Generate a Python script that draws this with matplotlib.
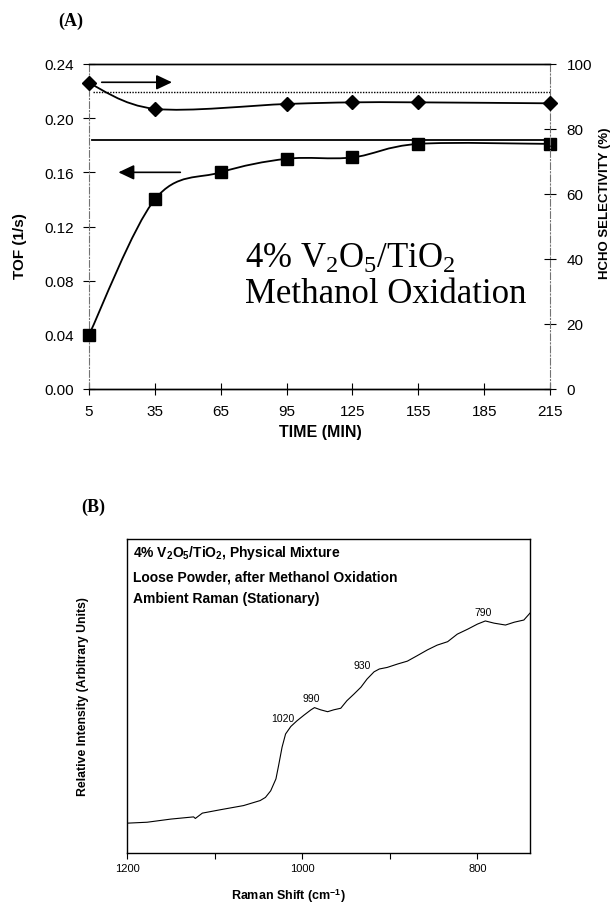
import matplotlib
matplotlib.use("Agg")
import matplotlib.pyplot as plt
import numpy as np
from matplotlib.path import Path
from matplotlib.patches import PathPatch

plt.rcParams.update(
    {
        "font.family": "Liberation Sans",
        "mathtext.fontset": "custom",
        "mathtext.rm": "Liberation Serif",
        "mathtext.it": "Liberation Serif:italic",
        "mathtext.bf": "Liberation Sans:bold",
    }
)

# panel A: methanol oxidation over time
time_sel = [5, 35, 95, 125, 155, 215]
selectivity = [94.1, 86.2, 87.7, 88.2, 88.2, 87.9]
time_tof = [5, 35, 65, 95, 125, 155, 215]
tof = [0.040, 0.140, 0.160, 0.170, 0.171, 0.181, 0.181]
ref_selectivity = 91.3
ref_tof = 0.184
time_ticks = [5, 35, 65, 95, 125, 155, 185, 215]
tof_ticks = [0.00, 0.04, 0.08, 0.12, 0.16, 0.20, 0.24]
sel_ticks = [0, 20, 40, 60, 80, 100]

# panel B: Raman spectrum
raman_shift = [1200, 1177, 1150, 1124, 1122, 1114, 1093, 1067, 1048, 1042, 1036,
               1030, 1027, 1023, 1019, 1013, 1006, 998, 990, 986, 979, 971, 964,
               956, 949, 941, 933, 926, 918, 912, 903, 891, 880, 869, 857, 846,
               834, 823, 811, 800, 791, 781, 768, 758, 747, 740]
intensity = [9.5, 9.8, 10.8, 11.5, 11.0, 12.7, 13.8, 15.1, 16.7, 17.7, 19.8,
             23.6, 27.8, 33.7, 37.9, 40.3, 42.1, 43.9, 45.6, 46.3, 45.6, 45.0, 45.6,
             46.1, 48.5, 50.6, 52.8, 55.4, 57.7, 58.6, 59.1, 60.2, 61.1, 62.8, 64.7, 66.2,
             67.3, 69.7, 71.3, 72.9, 73.9, 73.2, 72.6, 73.5, 74.2, 76.4]
peak_labels = ["1020", "990", "930", "790"]
peak_pos = [(1022, 42.9), (989.5, 49.4), (932, 59.9), (793, 76.8)]


def smooth_path(xs, ys):
    # Catmull-Rom style bezier through the points (like Excel's smoothed line)
    pts = np.column_stack([xs, ys]).astype(float)
    n = len(pts)
    verts, codes = [pts[0]], [Path.MOVETO]
    for i in range(n - 1):
        p0, p1 = pts[max(i - 1, 0)], pts[i]
        p2, p3 = pts[i + 1], pts[min(i + 2, n - 1)]
        verts += [p1 + (p2 - p0) / 6, p2 - (p3 - p1) / 6, p2]
        codes += [Path.CURVE4] * 3
    return Path(verts, codes)


W, H = 615, 903
fig = plt.figure(figsize=(W / 100, H / 100), dpi=100)


def fx(px):
    return px / W


def fy(py):
    return 1 - py / H


# ---------- panel A ----------
ax = fig.add_axes([fx(89), fy(390), fx(550) - fx(89), fy(65) - fy(390)])
ax2 = ax.twinx()
ax.set_xlim(5, 215)
ax.set_ylim(0, 0.24)
ax2.set_ylim(0, 100)

ax.add_patch(PathPatch(smooth_path(time_tof, tof), fill=False, lw=1.3, color="black"))
ax.plot(time_tof, tof, ls="none", marker="s", ms=8, color="black", clip_on=False, zorder=5)
ax2.add_patch(PathPatch(smooth_path(time_sel, selectivity), fill=False, lw=1.3, color="black"))
ax2.plot(time_sel, selectivity, ls="none", marker="D", ms=7, color="black", clip_on=False, zorder=5)

ax.axhline(ref_tof, xmin=0.006, xmax=1, color="black", lw=1.3)
ax2.axhline(ref_selectivity, xmin=0.009, xmax=1, color="black", lw=1.0, ls=(0, (1, 1)))

arrow_kw = dict(arrowstyle="-|>,head_length=0.95,head_width=0.45", color="black", lw=1.2,
                mutation_scale=10, shrinkA=0, shrinkB=0)
ax.annotate("", xy=(42.8, 0.2265), xytext=(10.8, 0.2265), arrowprops=arrow_kw)
ax.annotate("", xy=(18.4, 0.16), xytext=(46.6, 0.16), arrowprops=arrow_kw)

ax.set_xticks(time_ticks)
ax.set_yticks(tof_ticks)
ax.set_yticklabels([f"{v:.2f}" for v in tof_ticks])
ax2.set_yticks(sel_ticks)
ax.tick_params(axis="both", direction="inout", length=8, width=0.8, labelsize=11, pad=7)
ax2.tick_params(axis="y", direction="inout", length=8, width=0.8, labelsize=11, pad=8)

for a in (ax, ax2):
    for side in ("left", "right"):
        a.spines[side].set_color("0.45")
        a.spines[side].set_linestyle((0, (6, 2, 1, 2)))
        a.spines[side].set_linewidth(0.8)
    a.spines["top"].set_linewidth(1.0)
    a.spines["bottom"].set_linewidth(1.0)
ax.spines["right"].set_visible(False)
ax2.spines["left"].set_visible(False)

fig.text(fx(245), fy(267.7), r"4% V$_\mathrm{2}$O$_\mathrm{5}$/TiO$_\mathrm{2}$",
         family="Liberation Serif", fontsize=25, va="baseline", ha="left")
fig.text(fx(245), fy(303.3), "Methanol Oxidation",
         family="Liberation Serif", fontsize=25, va="baseline", ha="left")

fig.text(fx(71), fy(21.5), "(A)", family="Liberation Serif", weight="bold", fontsize=13,
         ha="center", va="center")
fig.text(fx(20), fy(246), "TOF (1/s)", weight="bold", fontsize=11, rotation=90,
         ha="center", va="center")
fig.text(fx(605), fy(203), "HCHO SELECTIVITY (%)", weight="bold", fontsize=9.5,
         rotation=90, ha="center", va="center")
fig.text(fx(320), fy(433), "TIME (MIN)", weight="bold", fontsize=11.5, ha="center", va="center")

# ---------- panel B ----------
bx = fig.add_axes([fx(127), fy(854), fx(530) - fx(127), fy(540) - fy(854)])
bx.plot(raman_shift, intensity, color="black", lw=0.8)
bx.set_xlim(1200, 740)
bx.set_ylim(0, 100)
bx.set_yticks([])
bx.set_xticks([1200, 1000, 800])
bx.set_xticks([1100, 900], minor=True)
bx.tick_params(axis="x", which="both", direction="out", length=4, width=0.8, labelsize=8, pad=3)
for side in bx.spines.values():
    side.set_linewidth(1.0)

for label, (x, y) in zip(peak_labels, peak_pos):
    bx.text(x, y, label, fontsize=7.5, ha="center", va="center")

box_lines = [
    r"4% V$_\mathbf{2}$O$_\mathbf{5}$/TiO$_\mathbf{2}$, Physical Mixture",
    "Loose Powder, after Methanol Oxidation",
    "Ambient Raman (Stationary)",
]
for line, yy in zip(box_lines, [0.959, 0.882, 0.812]):
    bx.text(0.016, yy, line, transform=bx.transAxes, weight="bold", fontsize=10,
            ha="left", va="center")

fig.text(fx(93.7), fy(507), "(B)", family="Liberation Serif", weight="bold", fontsize=13,
         ha="center", va="center")
fig.text(fx(83.3), fy(697), "Relative Intensity (Arbitrary Units)", weight="bold", fontsize=8.8,
         rotation=90, ha="center", va="center")
fig.text(fx(288), fy(896), r"Raman Shift (cm$^{\mathbf{-1}}$)", weight="bold", fontsize=9,
         ha="center", va="center")

fig.savefig("out.png", dpi=100)
